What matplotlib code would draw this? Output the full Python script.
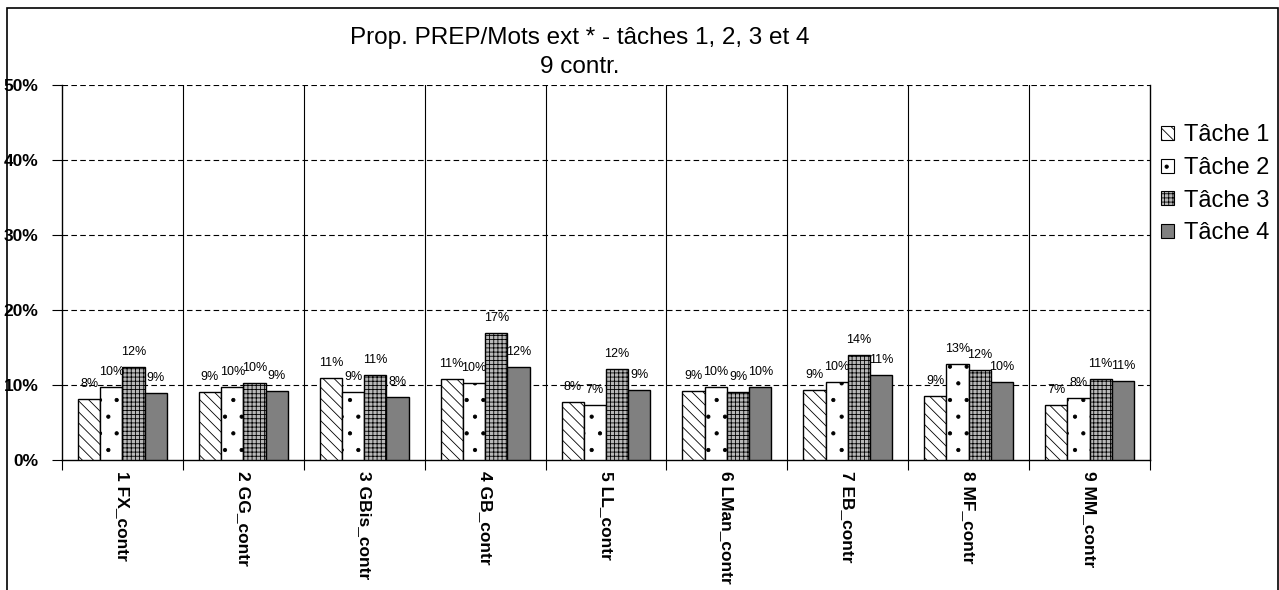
import numpy as np
import matplotlib
matplotlib.use("Agg")
import matplotlib.pyplot as plt
from matplotlib.patches import Patch, Rectangle

plt.rcParams['font.family'] = ['Liberation Sans', 'DejaVu Sans']
plt.rcParams['hatch.linewidth'] = 0.6

categories = ["1 FX_contr", "2 GG_contr", "3 GBis_contr", "4 GB_contr", "5 LL_contr",
              "6 LMan_contr", "7 EB_contr", "8 MF_contr", "9 MM_contr"]
series_names = ["Tâche 1", "Tâche 2", "Tâche 3", "Tâche 4"]

# values in percent
tache1 = [8.1, 9.1, 11.0, 10.8, 7.7, 9.2, 9.4, 8.6, 7.3]
tache2 = [9.8, 9.7, 9.1, 10.3, 7.4, 9.8, 10.4, 12.8, 8.3]
tache3 = [12.4, 10.3, 11.4, 16.9, 12.1, 9.1, 14.0, 12.0, 10.8]
tache4 = [8.9, 9.2, 8.4, 12.4, 9.4, 9.7, 11.3, 10.4, 10.6]

yticks = [0, 10, 20, 30, 40, 50]

styles = [
    dict(facecolor="white", hatch="\\\\\\"),
    dict(facecolor="white", hatch="."),
    dict(facecolor="#b8b8b8", hatch="++++"),
    dict(facecolor="#808080", hatch=None),
]

fig = plt.figure(figsize=(12.79, 5.90), dpi=100)
ax = fig.add_axes([62 / 1279, 1 - 460 / 590, (1150 - 62) / 1279, (460 - 85) / 590])

x = np.arange(len(categories))
w = 0.184
offsets = [-1.5 * w, -0.5 * w, 0.5 * w, 1.5 * w]
handles = []
for vals, off, st, name in zip([tache1, tache2, tache3, tache4], offsets, styles, series_names):
    bars = ax.bar(x + off, vals, w, edgecolor="black", linewidth=1.0, zorder=3, **st)
    for b, v in zip(bars, vals):
        ax.annotate("{:.0f}%".format(v), (b.get_x() + b.get_width() / 2, v),
                    xytext=(0, 8.5), textcoords="offset points",
                    ha="center", va="baseline", fontsize=9, zorder=5)
    handles.append(Patch(edgecolor="black", linewidth=0.8, label=name, **st))

ax.set_xlim(-0.5, len(categories) - 0.5)
ax.set_ylim(0, 50)

# category separators
for b in np.arange(0.5, len(categories) - 0.5, 1):
    ax.axvline(b, color="black", linewidth=0.8, zorder=1)
for yv in yticks[1:]:
    ax.axhline(yv, color="black", linewidth=0.8, linestyle=(0, (5, 3)), zorder=1)

ax.set_yticks(yticks)
ax.set_yticklabels(["{}%".format(v) for v in yticks], fontsize=12.5, fontweight="bold")
ax.tick_params(axis="y", length=7, width=0.8, pad=10)

ax.set_xticks(np.arange(-0.5, len(categories), 1))
ax.set_xticklabels([])
ax.tick_params(axis="x", which="major", length=7, width=0.8)
ax.set_xticks(x, minor=True)
ax.set_xticklabels(categories, minor=True, rotation=-90, fontsize=12.5, fontweight="bold",
                   va="top", ha="center")
ax.tick_params(axis="x", which="minor", length=0, pad=8)

ax.spines["top"].set_visible(False)
for s in ["left", "bottom", "right"]:
    ax.spines[s].set_linewidth(1.0)

fig.text(580 / 1279, 1 - 44 / 590, "Prop. PREP/Mots ext * - tâches 1, 2, 3 et 4",
         ha="center", va="baseline", fontsize=17.5)
fig.text(580 / 1279, 1 - 73 / 590, "9 contr.", ha="center", va="baseline", fontsize=17.5)

fig.legend(handles=handles, loc="upper left", bbox_to_anchor=(1152 / 1279, 1 - 115 / 590),
           frameon=False, fontsize=17, handlelength=0.55, handleheight=0.55,
           handletextpad=0.4, labelspacing=0.45, borderaxespad=0)

fig.patches.append(Rectangle((7 / 1279, -0.1), (1278 - 7) / 1279, 1.1 - 8 / 590,
                             transform=fig.transFigure, fill=False,
                             edgecolor="black", linewidth=1.2))

fig.savefig("out.png", dpi=100, facecolor="white")
